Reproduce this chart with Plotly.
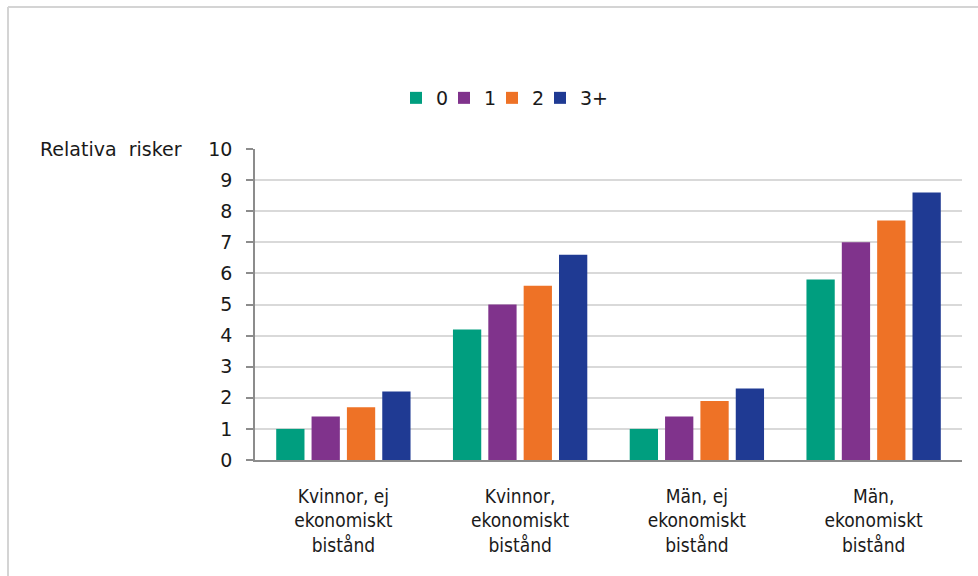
import plotly.graph_objects as go

categories = ["Kvinnor, ej<br>ekonomiskt<br>bistånd",
              "Kvinnor,<br>ekonomiskt<br>bistånd",
              "Män, ej<br>ekonomiskt<br>bistånd",
              "Män,<br>ekonomiskt<br>bistånd"]
series_names = ["0", "1", "2", "3+"]
values_0 = [1.0, 4.2, 1.0, 5.8]
values_1 = [1.4, 5.0, 1.4, 7.0]
values_2 = [1.7, 5.6, 1.9, 7.7]
values_3 = [2.2, 6.6, 2.3, 8.6]
y_ticks = [0, 1, 2, 3, 4, 5, 6, 7, 8, 9, 10]
y_title = "Relativa  risker"

colors = ["#009E7F", "#80338C", "#EE7226", "#1F3A93"]

W, H = 978, 576
L, R, T, B = 255, 16, 149, 116
pw, ph = W - L - R, H - T - B

def px_x(p):
    return (p - L) / pw

def px_y(p):
    return (H - B - p) / ph

fig = go.Figure()
for name, vals, c in zip(series_names, [values_0, values_1, values_2, values_3], colors):
    fig.add_trace(go.Bar(x=categories, y=vals, name=name, marker_color=c,
                         marker_line_width=0))

# invisible trailing legend spacer so the last label is not clipped
fig.add_trace(go.Scatter(x=[None], y=[None], mode="markers", name=" ",
                         marker=dict(color="rgba(0,0,0,0)"),
                         hoverinfo="skip"))

fig.update_layout(
    width=W, height=H,
    margin=dict(l=L, r=R, t=T, b=B, autoexpand=False),
    paper_bgcolor="white", plot_bgcolor="white",
    barmode="group", bargap=0.2, bargroupgap=0.2,
    font=dict(family="DejaVu Sans", size=19, color="#1a1a1a"),
    legend=dict(orientation="h", x=px_x(396), xanchor="left",
                y=px_y(98), yanchor="middle",
                font=dict(size=19), itemwidth=30,
                entrywidth=3, entrywidthmode="pixels",
                bgcolor="rgba(0,0,0,0)", itemclick=False, itemdoubleclick=False),
    showlegend=True,
)

fig.update_yaxes(range=[0, 10], tickvals=y_ticks, showgrid=True,
                 gridcolor="#d9d9d9", gridwidth=1.5,
                 showline=True, linecolor="#8c8c8c", linewidth=1.5,
                 ticks="outside", ticklen=7, tickcolor="#8c8c8c", tickwidth=1.5,
                 ticklabelstandoff=10, zeroline=False,
                 tickfont=dict(family="DejaVu Sans", size=19))
fig.update_xaxes(showline=True, linecolor="#8c8c8c", linewidth=1.5,
                 ticks="", ticklabelstandoff=18,
                 tickfont=dict(family="DejaVu Sans Condensed, DejaVu Sans", size=19))

fig.add_annotation(text=y_title, xref="paper", yref="paper",
                   x=px_x(38), y=1.0, xanchor="left", yanchor="middle",
                   showarrow=False, font=dict(family="DejaVu Sans", size=19))

border = "#d4d4d4"
fig.add_shape(type="line", xref="paper", yref="paper",
              x0=px_x(8), x1=px_x(8), y0=px_y(580), y1=px_y(7),
              line=dict(color=border, width=2))
fig.add_shape(type="line", xref="paper", yref="paper",
              x0=px_x(8), x1=px_x(980), y0=px_y(7), y1=px_y(7),
              line=dict(color=border, width=2))

fig.write_html("out.html", config={"displayModeBar": False},
               post_script="document.body.style.margin='0';")
